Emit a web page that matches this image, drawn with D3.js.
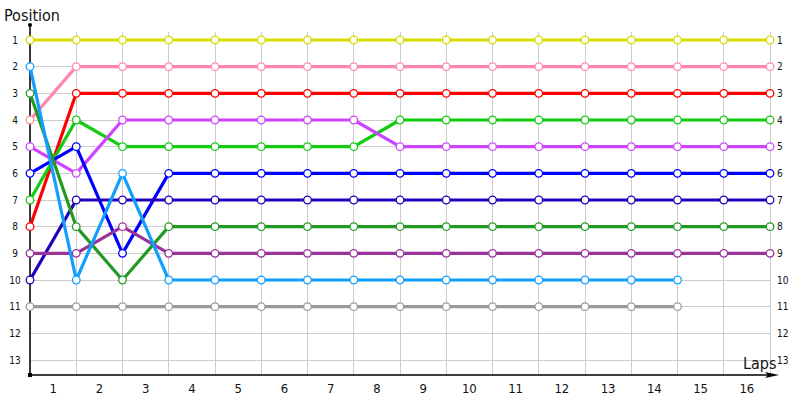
<!DOCTYPE html>
<html>
<head>
<meta charset="utf-8">
<script src="https://cdn.jsdelivr.net/npm/d3@7"></script>
<style>
html,body{margin:0;padding:0;background:#fff;}
svg{display:block;}
text{font-family:"DejaVu Sans Condensed","DejaVu Sans",sans-serif;}
</style>
</head>
<body>
<svg id="chart" width="800" height="400"></svg>
<script>
const lapTicks = [1,2,3,4,5,6,7,8,9,10,11,12,13,14,15,16];
const positionTicks = [1,2,3,4,5,6,7,8,9,10,11,12,13];
const seriesNames = ["yellow","pink","red","green","violet","blue","navy","darkgreen","purple","lightblue","gray"];
const seriesColors = ["#dcdc00","#ff88aa","#ff0000","#11cc11","#cc44ff","#0000ff","#2200bb","#229922","#993399","#119fff","#999999"];
const posYellow    = [1,1,1,1,1,1,1,1,1,1,1,1,1,1,1,1,1];
const posPink      = [4,2,2,2,2,2,2,2,2,2,2,2,2,2,2,2,2];
const posRed       = [8,3,3,3,3,3,3,3,3,3,3,3,3,3,3,3,3];
const posGreen     = [7,4,5,5,5,5,5,5,4,4,4,4,4,4,4,4,4];
const posViolet    = [5,6,4,4,4,4,4,4,5,5,5,5,5,5,5,5,5];
const posBlue      = [6,5,9,6,6,6,6,6,6,6,6,6,6,6,6,6,6];
const posNavy      = [10,7,7,7,7,7,7,7,7,7,7,7,7,7,7,7,7];
const posDarkGreen = [3,8,10,8,8,8,8,8,8,8,8,8,8,8,8,8,8];
const posPurple    = [9,9,8,9,9,9,9,9,9,9,9,9,9,9,9,9,9];
const posLightBlue = [2,10,6,10,10,10,10,10,10,10,10,10,10,10,10];
const posGray      = [11,11,11,11,11,11,11,11,11,11,11,11,11,11,11];
const seriesValues = [posYellow,posPink,posRed,posGreen,posViolet,posBlue,posNavy,posDarkGreen,posPurple,posLightBlue,posGray];

const svg = d3.select("#chart");
const x = d3.scaleLinear().domain([0,16]).range([30,770]);
const y = d3.scaleLinear().domain([1,13]).range([40,360]);
const axisBottomY = 375, axisTopY = 25;
const gridIdx = d3.range(0,17);

// grid
const grid = svg.append("g");
grid.selectAll("line.v").data(gridIdx).join("line")
  .attr("x1",d=>x(d)).attr("x2",d=>x(d)).attr("y1",32).attr("y2",axisBottomY)
  .attr("stroke","#cccccc").attr("stroke-width",1).attr("shape-rendering","crispEdges");
grid.selectAll("line.h").data(positionTicks).join("line")
  .attr("x1",x(0)).attr("x2",x(16)).attr("y1",d=>y(d)).attr("y2",d=>y(d))
  .attr("stroke","#cccccc").attr("stroke-width",1).attr("shape-rendering","crispEdges");

// axes
svg.append("line").attr("x1",x(0)).attr("x2",x(0)).attr("y1",axisTopY).attr("y2",axisBottomY)
  .attr("stroke","#000").attr("stroke-width",1.5);
svg.append("line").attr("x1",x(0)).attr("x2",770).attr("y1",axisBottomY).attr("y2",axisBottomY)
  .attr("stroke","#000").attr("stroke-width",1.5);
svg.append("path").attr("d",`M765,${axisBottomY-3} L779,${axisBottomY} L765,${axisBottomY+3} L768,${axisBottomY} Z`).attr("fill","#000");
svg.append("circle").attr("cx",x(0)).attr("cy",axisTopY).attr("r",2).attr("fill","#000");
svg.append("rect").attr("x",x(0)-2).attr("y",axisBottomY-2).attr("width",4).attr("height",4).attr("fill","#000");

// y tick labels
svg.append("g").selectAll("text").data(positionTicks).join("text")
  .attr("x",15).attr("y",d=>y(d)).attr("dy","0.35em").attr("text-anchor","middle")
  .attr("font-size",10).attr("fill","#111").text(d=>d);
svg.append("g").selectAll("text").data(positionTicks).join("text")
  .attr("x",777).attr("y",d=>y(d)).attr("dy","0.35em").attr("text-anchor","start")
  .attr("font-size",10).attr("fill","#111").text(d=>d);
// x tick labels
svg.append("g").selectAll("text").data(lapTicks).join("text")
  .attr("x",d=>x(d-0.5)).attr("y",393).attr("text-anchor","middle")
  .attr("font-size",13).attr("fill","#111").text(d=>d);

svg.append("text").attr("x",4).attr("y",21).attr("font-size",16).attr("fill","#111").text("Position");
svg.append("text").attr("x",743).attr("y",369).attr("font-size",16).attr("fill","#111").text("Laps");

// series
const line = d3.line().x((d,i)=>x(i)).y(d=>y(d));
seriesValues.forEach((vals,si)=>{
  const g = svg.append("g").attr("class",seriesNames[si]);
  g.append("path").attr("d",line(vals)).attr("fill","none")
    .attr("stroke",seriesColors[si]).attr("stroke-width",3.2).attr("stroke-linejoin","round");
});
seriesValues.forEach((vals,si)=>{
  svg.append("g").selectAll("circle").data(vals).join("circle")
    .attr("cx",(d,i)=>x(i)).attr("cy",d=>y(d)).attr("r",3.8)
    .attr("fill","#fff").attr("stroke",seriesColors[si]).attr("stroke-width",1.3);
});
</script>
</body>
</html>
